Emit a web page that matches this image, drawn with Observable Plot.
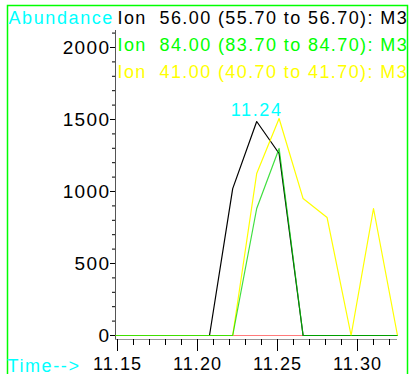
<!DOCTYPE html>
<html><head><meta charset="utf-8">
<script src="https://cdn.jsdelivr.net/npm/d3@7"></script>
<script src="https://cdn.jsdelivr.net/npm/@observablehq/plot@0.6"></script>
<style>
html,body{margin:0;padding:0;background:#fff;}
#chart svg{display:block;}
</style></head><body><div id="chart"></div>
<script>
// Scan times (min)
const times  = [11.149, 11.164, 11.178, 11.193, 11.2075, 11.222, 11.237, 11.251, 11.266, 11.281, 11.296, 11.310, 11.325];
// Abundances per ion
const ion56  = [0, 0, 0, 0, 0, 1020, 1486, 1264, 0, 0, 0, 0, 0];
const ion84  = [0, 0, 0, 0, 0, 0, 882, 1299, 0, 0, 0, 0, 0];
const ion41  = [0, 0, 0, 0, 0, 0, 1125, 1507, 951, 819, 0, 882, 0];
const redTrace = [0, 0, 0, 0, 0, 0, 0, 0, 0, 0, 0, 0, 0];

// drawing order: red, ion 56 (black), ion 41 (yellow), ion 84 (green)
const seriesNames   = ["red", "Ion 56.00", "Ion 41.00", "Ion 84.00"];
const seriesValues  = [redTrace, ion56, ion41, ion84];
const seriesColors  = ["#ff7a7a", "#000000", "#ffff00", "#00d400"];
const seriesOpacity = [1, 1, 1, 0.75];

const legendLabels = [
  "Ion\u00a0\u00a056.00 (55.70 to 56.70): M3",
  "Ion\u00a0\u00a084.00 (83.70 to 84.70): M3",
  "Ion\u00a0\u00a041.00 (40.70 to 41.70): M3"
];
const legendColors = ["#000000", "#00ff00", "#ffff00"];

const yTicks = [0, 500, 1000, 1500, 2000];
const yMinor = [100, 200, 300, 400, 600, 700, 800, 900, 1100, 1200, 1300, 1400, 1600, 1700, 1800, 1900, 2100];
const xTicks = [11.15, 11.20, 11.25, 11.30];
const xMinor = [11.16, 11.17, 11.18, 11.19, 11.21, 11.22, 11.23, 11.24, 11.26, 11.27, 11.28, 11.29, 11.31, 11.32];

const peakTime = 11.237, peakValue = 1486, peakText = "11.24";

const xDomain = [11.14875, 11.325];
const yDomain = [0, 2118];

const rows = [];
seriesNames.forEach((name, s) => times.forEach((t, i) => rows.push({series: name, time: t, value: seriesValues[s][i]})));

const marks = [
  Plot.frame({stroke: "#00ff00", strokeWidth: 1.5, insetLeft: -108, insetTop: -25, insetRight: -10, insetBottom: -60}),
  Plot.ruleX([xDomain[0]], {stroke: "#555"}),
  Plot.ruleY([0], {dy: 4, stroke: "#999"}),
  Plot.axisY({ticks: yTicks, tickSize: 5, tickPadding: 0, label: null, fontSize: 19, tickFormat: d => String(d)}),
  Plot.axisY({ticks: yMinor, tickSize: 3, text: null, label: null}),
  Plot.axisX({ticks: xTicks, tickSize: 12, tickPadding: 6, label: null, tickFormat: d3.format(".2f")}),
  Plot.axisX({ticks: xMinor, tickSize: 6, text: null, label: null}),
];
seriesNames.forEach((name, s) => {
  marks.push(Plot.line(rows.filter(r => r.series === name), {x: "time", y: "value", stroke: seriesColors[s], strokeOpacity: seriesOpacity[s], strokeWidth: 1.2}));
});
marks.push(Plot.text([{time: peakTime, value: peakValue, label: peakText}], {x: "time", y: "value", text: "label", dy: -6, lineAnchor: "bottom", fill: "#00ffff"}));
marks.push(Plot.text(["Abundance"], {text: d => d, frameAnchor: "top-left", dx: -107, dy: -7, textAnchor: "start", lineAnchor: "bottom", fill: "#00ffff"}));
legendLabels.forEach((lab, i) => {
  marks.push(Plot.text([lab], {text: d => d, frameAnchor: "top-left", dx: 2, dy: -7 + 27 * i, textAnchor: "start", lineAnchor: "bottom", fill: legendColors[i]}));
});
marks.push(Plot.text(["Time-->"], {text: d => d, frameAnchor: "bottom-left", dx: -108, dy: 32, textAnchor: "start", lineAnchor: "bottom", fill: "#00ffff"}));

const chart = Plot.plot({
  width: 409,
  height: 374,
  marginLeft: 115,
  marginRight: 12,
  marginTop: 30,
  marginBottom: 35,
  x: {domain: xDomain},
  y: {domain: yDomain, range: [335, 30]},
  style: {fontFamily: "'Liberation Sans', Arial, sans-serif", fontSize: "18px", background: "white", color: "black", overflow: "hidden"},
  marks
});
d3.select(chart).selectAll('g[aria-label="text"] text').each(function () {
  const t = this.textContent;
  this.setAttribute("letter-spacing", t.startsWith("Ion") ? "1.4" : "1.6");
});
d3.select(chart).selectAll('g[aria-label="x-axis tick label"] text').attr("letter-spacing", "1.1");
d3.select(chart).selectAll('g[aria-label="y-axis tick label"] text').attr("letter-spacing", "1.4");
document.getElementById("chart").appendChild(chart);
</script></body></html>
